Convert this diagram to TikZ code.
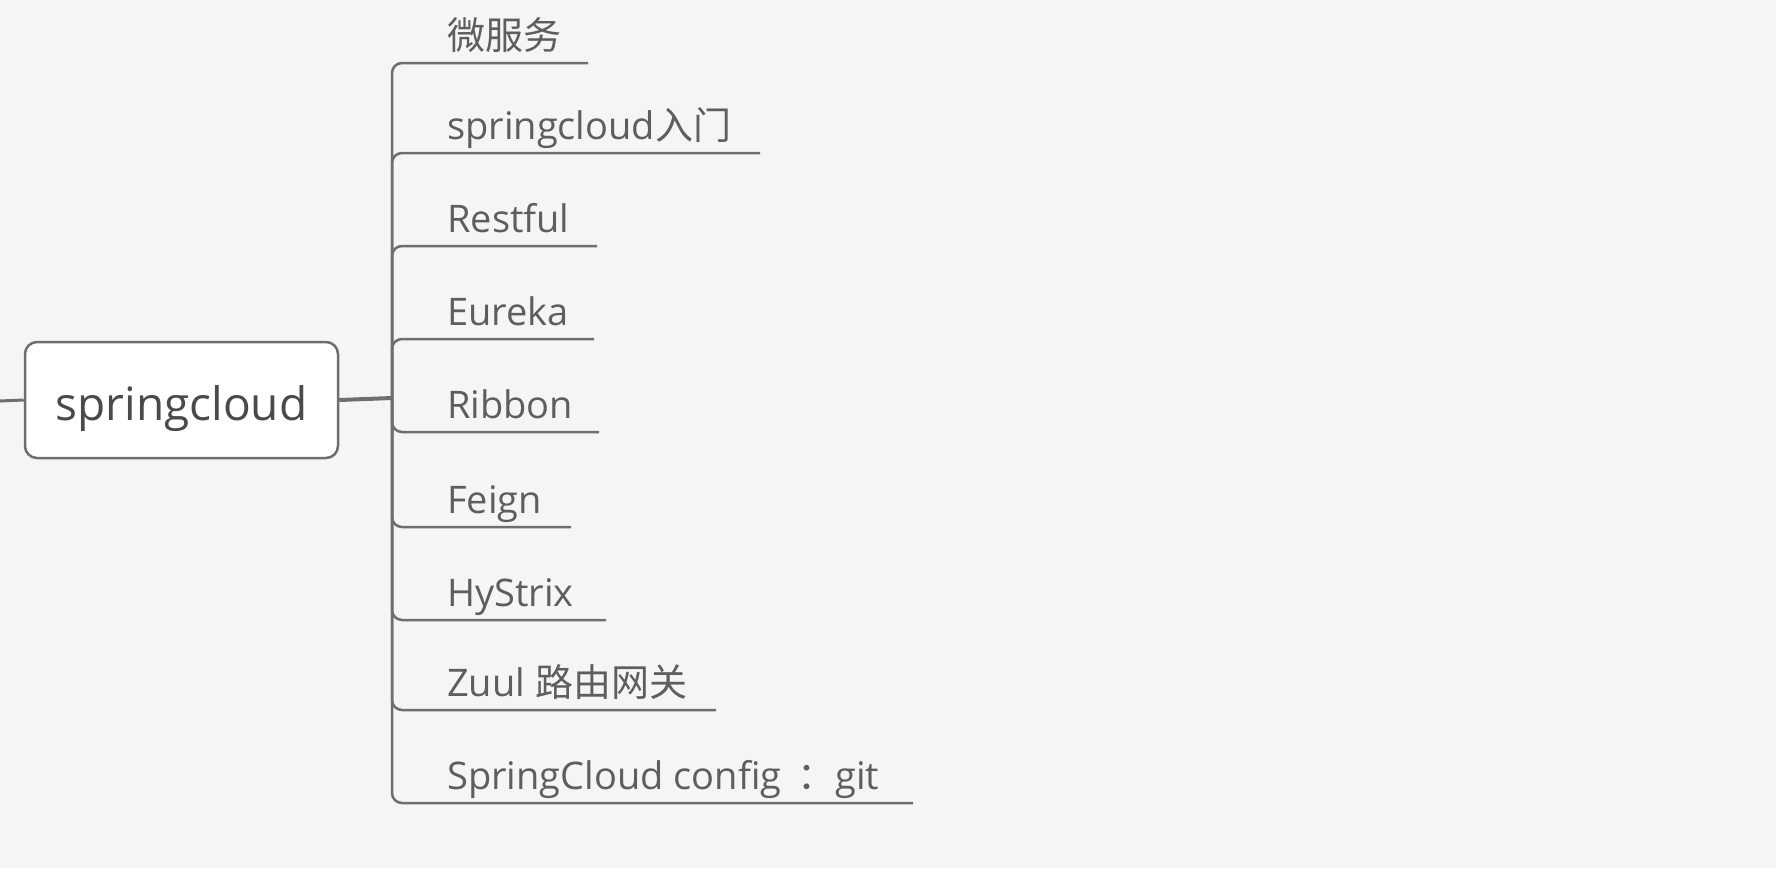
\documentclass[tikz,border=0pt]{standalone}
\usepackage{fontspec}
\setmainfont{Open Sans}
\newfontfamily\cjk{Noto Sans CJK SC}
\definecolor{bg}{HTML}{F5F5F5}
\definecolor{ln}{HTML}{6E6E6E}
\definecolor{tx}{HTML}{5E5E5E}
\definecolor{rtx}{HTML}{4A4A4A}
\tikzset{
  rootbox/.style={draw=ln, line width=2.5pt, fill=white, rounded corners=12pt,
    minimum width=313pt, minimum height=116pt, inner sep=0pt,
    font=\fontsize{46}{52}\selectfont, text=rtx, text height=40pt, text depth=0pt},
  rootline/.style={draw=ln, line width=4pt},
  bline/.style={draw=ln, line width=2.5pt, rounded corners=10pt},
  btext/.style={inner sep=0pt, anchor=base west, font=\fontsize{38}{44}\selectfont, text=tx}
}
\begin{document}
\begin{tikzpicture}[x=1pt,y=-1pt]
\useasboundingbox (0,0) rectangle (1776,868);
\fill[bg] (0,0) rectangle (1776,868);
\node[rootbox] (root) at (181.5,400) {springcloud};
\coordinate (lstub) at (0,401);
\coordinate (j) at (392,398);
\draw[rootline, line width=3pt] (lstub) -- (root.west);
% branches
\coordinate (e1) at (588,63);
\coordinate (e2) at (760,153);
\coordinate (e3) at (597,246);
\coordinate (e4) at (594,339);
\coordinate (e5) at (599,432);
\coordinate (e6) at (571,527);
\coordinate (e7) at (606,620);
\coordinate (e8) at (716,710);
\coordinate (e9) at (913,803);
\foreach \i in {1,...,9}{\draw[bline] (j) |- (e\i);}
\draw[rootline] (root.east) -- (j);
\node[btext] (b1) at (447,49) {\cjk 微服务};
\node[btext] (b2) at (447,139) {springcloud\cjk 入门};
\node[btext] (b3) at (447,232) {Restful};
\node[btext] (b4) at (447,325) {Eureka};
\node[btext] (b5) at (447,418) {Ribbon};
\node[btext] (b6) at (447,513) {Feign};
\node[btext] (b7) at (447,606) {HyStrix};
\node[btext] (b8) at (447,696) {Zuul {\cjk 路由网关}};
\node[btext] (b9) at (447,789) {SpringCloud config\hspace{16pt}{\cjk ：}git};
\end{tikzpicture}
\end{document}
